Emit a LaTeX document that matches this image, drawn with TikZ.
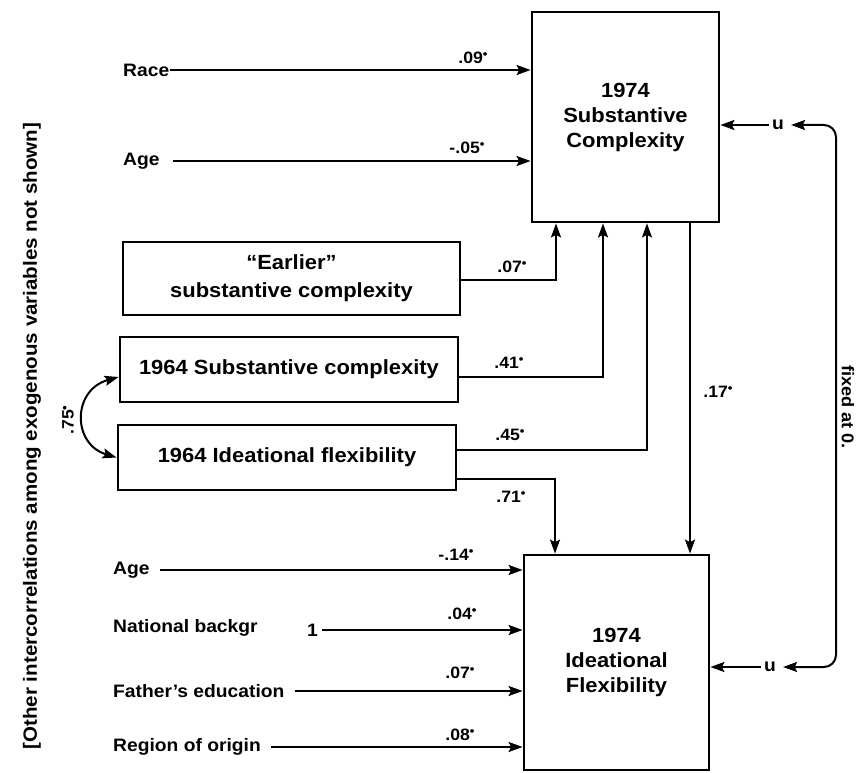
\documentclass[tikz,border=0pt]{standalone}
\usepackage{fontspec}
\setmainfont[FakeStretch=1.07,UprightFont=* Bold]{Liberation Sans}
\usepackage{graphicx}
\usetikzlibrary{arrows.meta}
\newcommand{\sg}{\raisebox{0.55ex}{\scalebox{0.75}{•}}}
\begin{document}
\begin{tikzpicture}[x=1pt,y=-1pt,
  tip/.tip={Stealth[length=14pt,width=10pt,inset=2.5pt]},
  arr/.style={line width=2pt,-tip},
  conn/.style={line width=2pt},
  box/.style={draw,line width=2.8pt,align=center,inner sep=0pt,font=\fontsize{20.5}{25}\selectfont},
  var/.style={anchor=west,inner sep=1pt,font=\fontsize{18}{22}\selectfont},
  coef/.style={inner sep=0pt,font=\fontsize{16.5}{19}\selectfont},
  unode/.style={inner sep=3pt,font=\fontsize{18}{20}\selectfont},
  ]
\useasboundingbox (0,0) rectangle (863,773);

% main boxes
\node[box,minimum width=187pt,minimum height=210pt] (sc) at (625.5,117) {1974\\Substantive\\Complexity};
\node[box,minimum width=185pt,minimum height=215pt] (if) at (616.5,662.5) {1974\\Ideational\\Flexibility};
\node[box,minimum width=337pt,minimum height=73pt,font=\fontsize{20.5}{28}\selectfont] (early) at (291.5,278.5) {``Earlier''\\substantive complexity};
\node[box,minimum width=338pt,minimum height=65pt] (sc64) at (289,369.5) {1964 Substantive complexity};
\node[box,minimum width=338pt,minimum height=65pt] (if64) at (287,457.5) {1964 Ideational flexibility};

% exogenous variables
\node[var] (race) at (122,70) {Race};
\node[var] (age1) at (122,161) {Age};
\node[var] (age2) at (112,570) {Age};
\node[var] (nat) at (112,628) {National backgr};
\node[var] (nat1) at (306,630) {1};
\node[var] (fath) at (112,691) {Father's education};
\node[var] (reg) at (112,747) {Region of origin};

\draw[arr] (race.east) -- (race.east -| sc.west);
\draw[arr] ([xshift=12pt]age1.east) -- (age1.east -| sc.west);
\draw[arr] ([xshift=9pt]age2.east) -- (age2.east -| if.west);
\draw[arr] ([xshift=3pt]nat1.east) -- (nat1.east -| if.west);
\draw[arr] ([xshift=9pt]fath.east) -- (fath.east -| if.west);
\draw[arr] ([xshift=9pt]reg.east) -- (reg.east -| if.west);

% box to box paths
\draw[arr] ([yshift=-1.5pt]early.east) -| ([xshift=-69.5pt]sc.south);
\draw[arr] ([yshift=-7.5pt]sc64.east) -| ([xshift=-22.5pt]sc.south);
\draw[arr] ([yshift=7.5pt]if64.east) -| ([xshift=21.5pt]sc.south);
\draw[arr] ([yshift=-21.5pt]if64.east) -| ([xshift=-61.5pt]if.north);
\draw[arr] ([xshift=64.5pt]sc.south) -- ([xshift=64.5pt]sc.south |- if.north);

% correlation between 1964 measures
\draw[conn,tip-tip] ([yshift=-7.5pt]sc64.west) .. controls (72,390) and (72,444) .. (if64.west);

% residuals
\node[unode] (u1) at (778,125) {u};
\node[unode] (u2) at (770,667) {u};
\coordinate (rail) at (836,400);
\draw[arr] (u1.west) -- (u1.west -| sc.east);
\draw[arr] (u2.west) -- (u2.west -| if.east);
\draw[conn,tip-tip,rounded corners=12pt,shorten <=4pt,shorten >=4pt] (u1.east) -- (u1.east -| rail) -- (u2.east -| rail) -- (u2.east);

% coefficients
\node[coef] (c1) at (473,58) {.09\sg};
\node[coef] (c2) at (467,148) {-.05\sg};
\node[coef] (c3) at (512,267) {.07\sg};
\node[coef] (c4) at (509,363) {.41\sg};
\node[coef] (c5) at (510,435) {.45\sg};
\node[coef] (c6) at (511,497) {.71\sg};
\node[coef] (c7) at (718,392) {.17\sg};
\node[coef] (c8) at (456,555) {-.14\sg};
\node[coef] (c9) at (462,614) {.04\sg};
\node[coef] (c10) at (460,673) {.07\sg};
\node[coef] (c11) at (460,735) {.08\sg};
\node[coef,rotate=90] (c12) at (68,420) {.75\sg};

% side notes
\node[rotate=90,inner sep=0pt,font=\fontsize{19.2}{22}\selectfont] (note) at (32,436) {[Other intercorrelations among exogenous variables not shown]};
\node[rotate=-90,inner sep=0pt,font=\fontsize{17}{20}\selectfont] (fixed) at (848,407) {fixed at 0.};
\end{tikzpicture}
\end{document}
